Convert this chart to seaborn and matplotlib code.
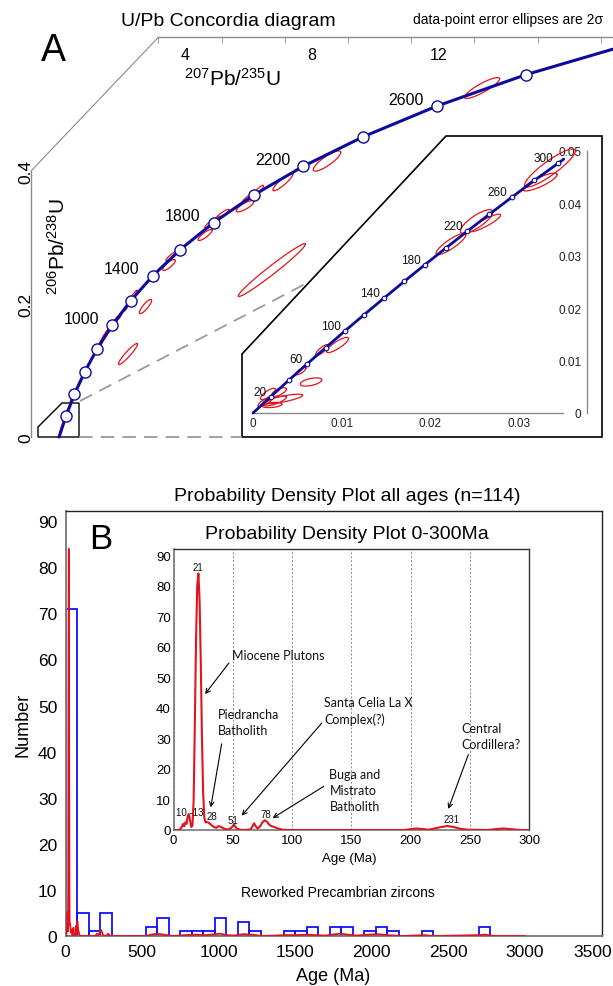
import numpy as np
import pandas as pd
import seaborn as sns
import matplotlib.pyplot as plt
from matplotlib.patches import Polygon
from matplotlib.transforms import ScaledTranslation

# ---------------- data ----------------
# Panel A: concordia curve, 200 Ma steps
conc_age = [0, 200, 400, 600, 800, 1000, 1200, 1400, 1600, 1800, 2000, 2200, 2400, 2600, 2800, 3000]
conc_207_235 = [0, 0.2177, 0.4828, 0.8056, 1.1988, 1.6774, 2.2604, 2.9702, 3.8345, 4.8870,
                6.1687, 7.7295, 9.6297, 11.944, 14.762, 18.194]
conc_206_238 = [0, 0.03151, 0.06401, 0.09753, 0.13209, 0.16783, 0.20464, 0.24267, 0.28190, 0.32239,
                0.36417, 0.40725, 0.45169, 0.49752, 0.54480, 0.59263]
conc_labels = [1000, 1400, 1800, 2200, 2600]

# data-point ellipses (centre x, centre y, 2s x, 2s y, rho)
ell_x = [6.73, 7.08, 8.475, 13.38, 2.18, 2.733, 3.477, 5.88, 0.092, 0.25, 0.408, 0.63, 1.294, 1.484,
         1.674, 1.83, 2.18, 2.34, 3.57, 4.62, 4.87, 5.15, 6.04, 6.29]
ell_y = [0.251, 0.3835, 0.415, 0.5248, 0.1248, 0.1962, 0.2586, 0.347, 0.0150, 0.0376, 0.0571, 0.0797,
         0.1398, 0.155, 0.167, 0.1774, 0.2, 0.212, 0.2722, 0.3038, 0.3233, 0.334, 0.361, 0.37]
ell_ex = [1.063, 0.317, 0.435, 0.557, 0.302, 0.193, 0.2, 0.278, 0.0866, 0.065, 0.083, 0.067, 0.12, 0.163,
          0.163, 0.148, 0.119, 0.127, 0.194, 0.224, 0.259, 0.224, 0.233, 0.179]
ell_ey = [0.0397, 0.01326, 0.01525, 0.0157, 0.01585, 0.01065, 0.00825, 0.00847, 0.0113, 0.0085, 0.00976,
          0.0068, 0.00883, 0.0111, 0.0092, 0.0078, 0.0106, 0.0086, 0.0077, 0.0083, 0.0086, 0.0083, 0.0078, 0.0085]
ell_rho = [0.98, 0.898, 0.849, 0.877, 0.937, 0.852, 0.816, 0.796, 0.97, 0.97, 0.96, 0.95, 0.95, 0.96,
           0.95, 0.93, 0.95, 0.95, 0.9, 0.85, 0.9, 0.9, 0.9, 0.9]

# inset concordia 0-300 Ma (x as printed on the inset axis)
ins_age = [0, 20, 40, 60, 80, 100, 120, 140, 160, 180, 200, 220, 240, 260, 280, 300, 305]
ins_x = [0, 0.001989, 0.004018, 0.006088, 0.008199, 0.010350, 0.012548, 0.014785, 0.017065, 0.019391,
         0.021761, 0.024178, 0.026644, 0.029159, 0.031724, 0.034373, 0.035037]
ins_y = [0, 0.003107, 0.006224, 0.009351, 0.012486, 0.015633, 0.018788, 0.021953, 0.025128, 0.028312,
         0.031506, 0.034710, 0.037923, 0.041146, 0.044379, 0.047622, 0.048450]
ins_labels = [20, 60, 100, 140, 180, 220, 260, 300]

ins_ell_x = [0.03348, 0.03236, 0.02522, 0.02616, 0.02232, 0.00953, 0.00654, 0.00338, 0.00248, 0.00214,
             0.00169, 0.00293, 0.00135, 0.00541, 0.00778]
ins_ell_y = [0.04676, 0.04408, 0.03655, 0.03626, 0.03225, 0.01298, 0.00592, 0.00267, 0.00229, 0.00153,
             0.00363, 0.0040, 0.0021, 0.00802, 0.01202]
ins_ell_ex = [0.00286, 0.00193, 0.001833, 0.00175, 0.00168, 0.001238, 0.001216, 0.002214, 0.001277,
              0.001124, 0.000853, 0.00083, 0.000794, 0.000569, 0.000714]
ins_ell_ey = [0.003643, 0.001703, 0.00226, 0.001674, 0.002025, 0.001454, 0.000785, 0.000917, 0.00095,
              0.000504, 0.00109, 0.00083, 0.000868, 0.000727, 0.001047]
ins_ell_rho = [0.894, 0.834, 0.801, 0.892, 0.863, 0.843, 0.5, 0.777, 0.77, 0.31, 0.78, 0.66, 0.78, 0.78, 0.82]

# Panel B: histogram (bin start, count), 75 Ma bins
hist_start = [0, 75, 150, 225, 525, 600, 750, 825, 900, 975, 1125, 1200, 1425, 1500, 1575, 1725, 1800,
              1950, 2025, 2100, 2325, 2700]
hist_count = [71, 5, 1, 5, 2, 4, 1, 1, 1, 4, 3, 1, 1, 1, 2, 2, 2, 1, 2, 1, 1, 2]

# probability density curve
pdp_age = [0, 5, 7, 8, 9, 10, 11, 12, 13, 14, 15, 16, 17, 18, 19, 20, 21, 22, 23, 24,
           25, 26, 27, 28, 30, 32, 34, 36, 38, 40, 43, 46, 49, 51, 53, 56, 60, 65, 67, 68,
           69, 71, 73, 75, 77, 79, 81, 83, 85, 88, 92, 96, 195, 200, 205, 210, 215, 220, 226, 231,
           236, 242, 248, 265, 272, 278, 284, 292, 520, 560, 600, 640, 700, 780, 850, 920, 980, 1010, 1050, 1100,
           1160, 1220, 1280, 1440, 1500, 1580, 1620, 1700, 1760, 1800, 1840, 1900, 1980, 2040, 2100, 2200,
           2340, 2400, 2700, 2740, 2800, 3000]
pdp_val = [0, 0, 1.0, 2.0, 1.2, 2.5, 2.0, 4.7, 5.2, 3.0, 1.0, 1.5, 10, 35, 62, 80, 84, 75, 55, 30,
           12, 4, 2.5, 2.6, 2.3, 1.6, 1.0, 0.7, 1.3, 1.0, 0.4, 0.1, 0.8, 1.8, 0.6, 0.1, 0, 0.2, 1.5, 2.2,
           1.4, 0.5, 1.2, 2.5, 3.2, 2.6, 1.6, 1.2, 1.0, 0.5, 0.1, 0, 0, 0.3, 0.5, 0.3, 0.1, 0.5, 1.0, 1.3,
           1.0, 0.4, 0.1, 0, 0.3, 0.5, 0.3, 0, 0, 0.3, 0.5, 0.3, 0, 0.2, 0.3, 0.2, 0.4, 0.5, 0.2, 0.1,
           0.4, 0.3, 0, 0.2, 0.2, 0.3, 0.2, 0.1, 0.4, 0.5, 0.3, 0.1, 0.3, 0.4, 0.2, 0,
           0.2, 0, 0.2, 0.3, 0, 0]

peak_text = ['10 -13', '21', '28', '51', '78', '231']

# ---------------- style ----------------
sns.set_style('white')
plt.rcParams['font.family'] = ['Liberation Sans', 'DejaVu Sans']
plt.rcParams['mathtext.fontset'] = 'custom'
plt.rcParams['mathtext.rm'] = 'Liberation Sans'
plt.rcParams['mathtext.it'] = 'Liberation Sans:italic'
plt.rcParams['text.color'] = 'black'
plt.rcParams['axes.labelcolor'] = 'black'

BLUE = '#0b0b9e'
RED = '#e3141b'
GRAY = '#8a8a8a'

W, H = 613, 987
fig = plt.figure(figsize=(W / 100, H / 100), dpi=100)


def px_axes(l, t, r, b):
    return fig.add_axes([l / W, 1 - b / H, (r - l) / W, (b - t) / H])


def ftext(px, py, s, **kw):
    kw.setdefault('ha', 'center')
    kw.setdefault('va', 'center')
    fig.text(px / W, 1 - py / H, s, **kw)


def ellipse(cx, cy, ex, ey, rho):
    t = np.linspace(0, 2 * np.pi, 150)
    return cx + ex * np.cos(t), cy + ey * (rho * np.cos(t) + np.sqrt(1 - rho ** 2) * np.sin(t))


# ---------------- panel A ----------------
AX0, ASX, AY0, ASY = 59.1, 31.61, 438.0, 665.0


def a_xy(px, py):
    return (px - AX0) / ASX, (AY0 - py) / ASY


ax_a = px_axes(0, 0, W, 460)
ax_a.patch.set_alpha(0)
ax_a.set_xlim(a_xy(0, 0)[0], a_xy(W, 0)[0])
ax_a.set_ylim(a_xy(0, 460)[1], a_xy(0, 0)[1])
for s in ['right', 'bottom']:
    ax_a.spines[s].set_visible(False)
left_x = a_xy(31, 0)[0]
top_y = a_xy(0, 38.3)[1]
corner_x = a_xy(158.3, 0)[0]
ax_a.spines['left'].set_position(('data', left_x))
ax_a.spines['left'].set_bounds(0, 0.4)
ax_a.spines['top'].set_position(('data', top_y))
ax_a.spines['top'].set_bounds(corner_x, ax_a.get_xlim()[1])
for s in ['left', 'top']:
    ax_a.spines[s].set_color(GRAY)
    ax_a.spines[s].set_linewidth(1)
ax_a.xaxis.set_ticks_position('top')
ax_a.set_xticks([])
ax_a.set_xticks(list(corner_x + np.arange(0, 15, 2)), minor=True)
ax_a.tick_params(axis='x', which='minor', direction='in', length=4, color=GRAY, top=True, bottom=False)
ax_a.set_yticks([0, 0.2, 0.4], ['0', '0.2', '0.4'])
ax_a.set_yticks([0.1, 0.3], minor=True)
ax_a.tick_params(axis='y', which='both', direction='in', length=4, color=GRAY, labelsize=12.5,
                 pad=-2, labelrotation=90, labelcolor='black')
for lab in ax_a.get_yticklabels():
    lab.set_va('center')
for v in [4, 8, 12]:
    ax_a.annotate(str(v), (v, top_y), xytext=(0, -12.4), textcoords='offset points',
                  ha='center', va='center', fontsize=11.5)
# chamfer corner of the frame
ax_a.plot([left_x, corner_x], [0.4, top_y], color=GRAY, lw=0.8)

# zoom box, inset frame and dashed connectors
small_box = [a_xy(38, 438), a_xy(38, 428), a_xy(62, 404), a_xy(79, 404), a_xy(79, 438)]
ax_a.add_patch(Polygon(small_box, closed=True, fill=False, ec='black', lw=1.0))
inset_frame = [a_xy(242, 438), a_xy(242, 355), a_xy(446, 137), a_xy(602, 137), a_xy(602, 438)]
ax_a.add_patch(Polygon(inset_frame, closed=True, fill=False, ec='black', lw=1.2))
for p0, p1 in [((79, 438), (242, 438)), ((80, 402), (309, 283))]:
    q0, q1 = a_xy(*p0), a_xy(*p1)
    ax_a.plot([q0[0], q1[0]], [q0[1], q1[1]], color='#9a9a9a', lw=1.3, ls=(0, (7.5, 4.5)))

for cx, cy, ex, ey, r in zip(ell_x, ell_y, ell_ex, ell_ey, ell_rho):
    xx, yy = ellipse(cx, cy, ex, ey, r)
    ax_a.plot(xx, yy, color=RED, lw=0.9, zorder=2)

sns.lineplot(x=conc_207_235, y=conc_206_238, sort=False, color=BLUE, lw=2.2, ax=ax_a, zorder=3)
sns.scatterplot(x=conc_207_235[1:-1], y=conc_206_238[1:-1], s=64, color='white', edgecolor=BLUE,
                linewidth=1.0, ax=ax_a, zorder=4)
for age in conc_labels:
    i = conc_age.index(age)
    ax_a.annotate(str(age), (conc_207_235[i], conc_206_238[i]), xytext=(-22.3, 5),
                  textcoords='offset points', ha='center', va='center', fontsize=11.5)
ax_a.set_xlabel('')
ax_a.set_ylabel('')

ftext(228, 22, 'U/Pb Concordia diagram', fontsize=14)
ftext(603, 20, 'data-point error ellipses are 2σ', fontsize=10, ha='right')
ftext(53, 51, 'A', fontsize=27)
ftext(233, 79, r'$^{207}$Pb/$^{235}$U', fontsize=15)
ftext(57.5, 246.5, r'$^{206}$Pb/$^{238}$U', fontsize=15, rotation=90)

# ---------------- inset of panel A ----------------
IX0, ISX, IY0, ISY = 253.0, 8870.0, 414.0, 5240.0
ax_ai = px_axes(245, 140, 600, 436)
ax_ai.patch.set_alpha(0)
ax_ai.set_xlim((245 - IX0) / ISX, (600 - IX0) / ISX)
ax_ai.set_ylim((IY0 - 436) / ISY, (IY0 - 140) / ISY)
for s in ['top', 'right']:
    ax_ai.spines[s].set_visible(False)
ax_ai.spines['bottom'].set_position(('data', 0))
ax_ai.spines['bottom'].set_bounds(0, 0.0349)
ax_ai.spines['left'].set_position(('data', (586.7 - IX0) / ISX))
ax_ai.spines['left'].set_bounds(0, 0.05)
for s in ['bottom', 'left']:
    ax_ai.spines[s].set_color(GRAY)
    ax_ai.spines[s].set_linewidth(1)
ax_ai.set_xticks([0, 0.01, 0.02, 0.03], ['0', '0.01', '0.02', '0.03'])
ax_ai.set_xticks([0.005, 0.015, 0.025], minor=True)
ax_ai.set_yticks([0, 0.01, 0.02, 0.03, 0.04, 0.05], ['0', '0.01', '0.02', '0.03', '0.04', '0.05'])
ax_ai.set_yticks([0.005, 0.015, 0.025, 0.035, 0.045], minor=True)
ax_ai.tick_params(axis='x', which='both', direction='in', length=3, color=GRAY, labelsize=8.5,
                  pad=3, labelcolor='#222222')
ax_ai.tick_params(axis='y', which='both', direction='out', length=3, color=GRAY, labelsize=8.5,
                  pad=1, labelcolor='#222222')

for cx, cy, ex, ey, r in zip(ins_ell_x, ins_ell_y, ins_ell_ex, ins_ell_ey, ins_ell_rho):
    xx, yy = ellipse(cx, cy, ex, ey, r)
    ax_ai.plot(xx, yy, color=RED, lw=0.9, zorder=2)
sns.lineplot(x=ins_x, y=ins_y, sort=False, color=BLUE, lw=2.0, ax=ax_ai, zorder=3)
sns.scatterplot(x=ins_x[1:-1], y=ins_y[1:-1], s=11, color='white', edgecolor=BLUE, linewidth=0.8,
                ax=ax_ai, zorder=4)
for age in ins_labels:
    i = ins_age.index(age)
    ax_ai.annotate(str(age), (ins_x[i], ins_y[i]), xytext=(-3, 3.6), textcoords='offset points',
                   ha='right', va='center', fontsize=8.5, color='#111111')
ax_ai.set_xlabel('')
ax_ai.set_ylabel('')

# ---------------- panel B ----------------
ax_b = px_axes(65.6, 512, 601.5, 937)
hist_df = pd.DataFrame({'age': np.array(hist_start, dtype=float) + 37.5, 'n': hist_count})
sns.histplot(data=hist_df, x='age', weights='n', binwidth=75, binrange=(0, 2775),
             element='bars', fill=False, color='#1010ff', linewidth=1.3, ax=ax_b)
sns.lineplot(x=pdp_age, y=pdp_val, color=RED, lw=1.3, ax=ax_b, zorder=3)
ax_b.set_xlim(0, 3500)
ax_b.set_ylim(0, 92.2)
ax_b.set_xlabel('')
ax_b.set_ylabel('')
ax_b.set_xticks(np.arange(0, 3501, 500))
ax_b.set_xticks(np.arange(0, 3501, 100), minor=True)
ax_b.set_yticks(np.arange(0, 91, 10))
ax_b.set_yticks(np.arange(0, 92, 2), minor=True)
ax_b.tick_params(which='major', direction='in', length=5, color=GRAY, labelsize=12.5, labelcolor='black')
ax_b.tick_params(which='minor', direction='in', length=3, color=GRAY)
ax_b.tick_params(axis='x', pad=6)
ax_b.tick_params(axis='y', pad=6)
for s in ['left', 'bottom']:
    ax_b.spines[s].set_color('#777777')
    ax_b.spines[s].set_linewidth(1.3)
for s in ['top', 'right']:
    ax_b.spines[s].set_color('#222222')
    ax_b.spines[s].set_linewidth(1.0)
last = ax_b.get_xticklabels()[-1]
last.set_transform(last.get_transform() + ScaledTranslation(-9 / 100, 0, fig.dpi_scale_trans))

ftext(347.7, 497, 'Probability Density Plot all ages (n=114)', fontsize=14)
ftext(101, 540, 'B', fontsize=25)
ftext(23.4, 724.5, 'Number', fontsize=13, rotation=90)
ftext(333, 977, 'Age (Ma)', fontsize=13)
ftext(337.5, 893.3, 'Reworked Precambrian zircons', fontsize=10)

# ---------------- inset of panel B ----------------
ax_bi = px_axes(173.5, 550, 529.3, 831)
ax_bi.set_facecolor('white')
sns.lineplot(x=pdp_age, y=pdp_val, color=RED, lw=1.5, ax=ax_bi, zorder=3)
ax_bi.set_xlim(0, 300)
ax_bi.set_ylim(0, 92)
ax_bi.set_xlabel('')
ax_bi.set_ylabel('')
ax_bi.set_xticks(np.arange(0, 301, 50))
ax_bi.set_xticks(np.arange(0, 301, 10), minor=True)
ax_bi.set_yticks(np.arange(0, 91, 10))
ax_bi.set_yticks(np.arange(0, 92, 2), minor=True)
ax_bi.tick_params(which='major', direction='in', length=4, color=GRAY, labelsize=9.5, labelcolor='black')
ax_bi.tick_params(which='minor', direction='in', length=2, color=GRAY)
ax_bi.tick_params(axis='x', pad=3)
ax_bi.tick_params(axis='y', pad=2)
ax_bi.xaxis.grid(True, which='major', ls=(0, (2, 2)), color='#8c8c8c', lw=0.7)
for s in ['left', 'bottom']:
    ax_bi.spines[s].set_color('#777777')
    ax_bi.spines[s].set_linewidth(1.2)
for s in ['top', 'right']:
    ax_bi.spines[s].set_color('#333333')
    ax_bi.spines[s].set_linewidth(1.0)

ftext(346.5, 535, 'Probability Density Plot 0-300Ma', fontsize=14)
ftext(349.7, 859.3, 'Age (Ma)', fontsize=9.5)

# peak labels
for txt, (xa, ya) in zip(peak_text, [(13.9, 5.8), (20.9, 86), (32.7, 4.5), (50.4, 3.4), (78, 5.2), (234.6, 3.6)]):
    ax_bi.text(xa, ya, txt, ha='center', va='center', fontsize=7, color='#111111')

# arrows with unit names
notes = [
    ('Miocene Plutons', (49.3, 57.4), (46.8, 54.7), (26.6, 44.5)),
    ('Piedrancha\nBatholith', (37.8, 35.5), (40.6, 28.2), (31.4, 7.4)),
    ('Santa Celia La X\nComplex(?)', (126.9, 39.0), (125.0, 35.0), (57.5, 4.7)),
    ('Buga and\nMistrato\nBatholith', (131.5, 13.1), (126.7, 14.3), (83.6, 3.9)),
    ('Central\nCordillera?', (243.0, 30.9), (248.6, 24.7), (231.7, 6.9)),
]
for txt, pos, tail, head in notes:
    ax_bi.text(pos[0], pos[1], txt, ha='left', va='center', fontsize=9, family=['Lato', 'DejaVu Sans'],
               linespacing=1.4, color='#111111')
    ax_bi.annotate('', xy=head, xytext=tail,
                   arrowprops=dict(arrowstyle='->', lw=0.8, color='black', shrinkA=0, shrinkB=0,
                                   mutation_scale=8))

fig.savefig('out.png', dpi=100)
